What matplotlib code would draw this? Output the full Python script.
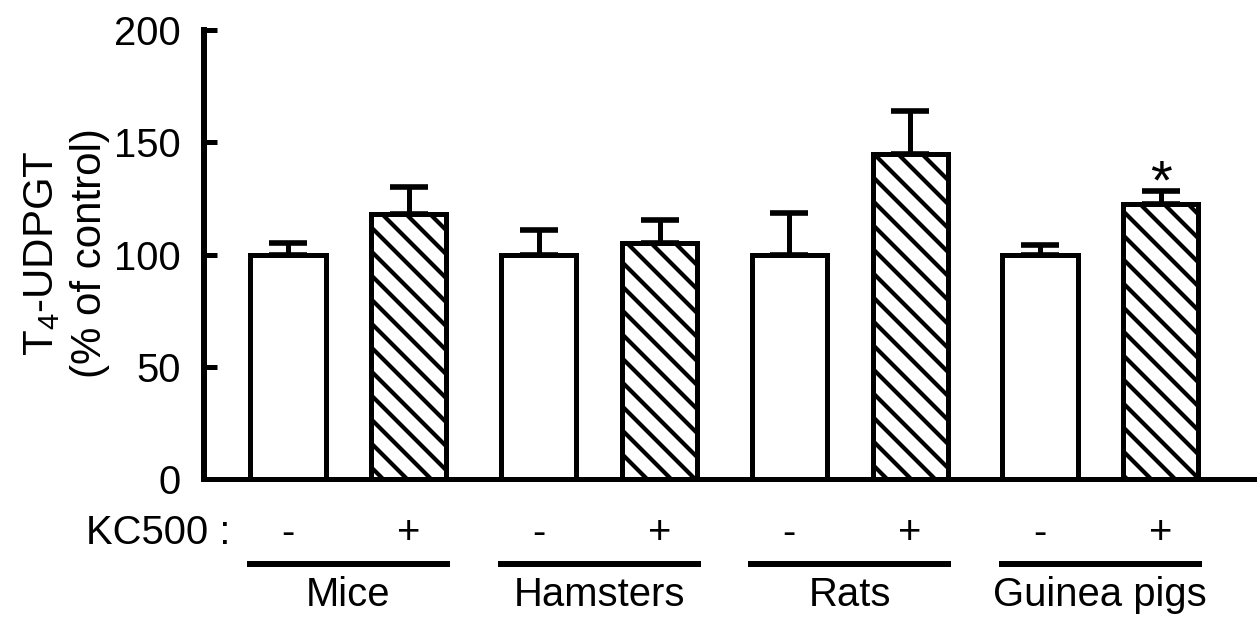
import matplotlib
matplotlib.use("Agg")
import matplotlib.pyplot as plt
import matplotlib.transforms as mtransforms
import numpy as np

# ---- data ----
species = ["Mice", "Hamsters", "Rats", "Guinea pigs"]
treatment_labels = ["-", "+"]
control_means = [100, 100, 100, 100]
control_err = [5.0, 10.8, 18.4, 4.1]
kc500_means = [118.1, 105.2, 144.9, 122.7]
kc500_err = [12.1, 10.0, 19.2, 5.6]
significant = [False, False, False, True]
yticks = [0, 50, 100, 150, 200]
ylabel_line1 = r"$\mathregular{T_4}$-UDPGT"
ylabel_line2 = "(% of control)"
row_label = "KC500 :"

plt.rcParams["font.family"] = ["Liberation Sans", "DejaVu Sans"]
plt.rcParams["mathtext.default"] = "regular"
plt.rcParams["hatch.linewidth"] = 2.1

DPI = 144
W, H = 1257, 621
fig = plt.figure(figsize=(W / DPI, H / DPI), dpi=DPI)
ax = fig.add_axes([204 / W, (H - 479) / H, (W - 204) / W, (479 - 30.2) / H])

FS = 20
group_pos = np.arange(len(species)) * 2.0
off = 0.482
bw = 0.6
x_ctrl = group_pos - off
x_kc = group_pos + off

# error bars (upper only)
for xs, m, e in [(x_ctrl, control_means, control_err), (x_kc, kc500_means, kc500_err)]:
    ax.errorbar(xs, m, yerr=[np.zeros(len(e)), e], fmt="none", ecolor="black",
                elinewidth=2.5, capsize=9.5, capthick=2.8, zorder=1)

ax.bar(x_ctrl, control_means, width=bw, color="white", edgecolor="black",
       linewidth=2.5, zorder=2)
bars_kc = ax.bar(x_kc, kc500_means, width=bw, color="white", edgecolor="black",
                 linewidth=2.5, zorder=2)
for p in bars_kc:
    p.set_hatch("\\\\")

# significance marks
for xk, m, e, s in zip(x_kc, kc500_means, kc500_err, significant):
    if s:
        ax.annotate("*", (xk, m + e), xytext=(0, -3.5), textcoords="offset points",
                    ha="center", va="baseline", fontsize=28)

ax.set_xlim(-1.153, 7.25)
ax.set_ylim(0, 200)
ax.set_yticks(yticks)
ax.set_yticklabels([str(t) for t in yticks], fontsize=FS)
ax.set_xticks([])
ax.spines["top"].set_visible(False)
ax.spines["right"].set_visible(False)
ax.spines["left"].set_linewidth(3)
ax.spines["bottom"].set_linewidth(2.5)
ax.tick_params(axis="y", direction="in", length=6.5, width=2.5, pad=11.5)

trans = mtransforms.blended_transform_factory(ax.transData, ax.transAxes)

# treatment row
for g in range(len(species)):
    ax.text(x_ctrl[g], -0.1448, treatment_labels[0], transform=trans, ha="center",
            va="baseline", fontsize=FS)
    ax.text(x_kc[g], -0.1448, treatment_labels[1], transform=trans, ha="center",
            va="baseline", fontsize=FS)
ax.text(0.0247, -0.1448, row_label, transform=ax.transAxes, ha="right",
        va="baseline", fontsize=FS)

# group lines and labels
ext = 0.81
for g, name in enumerate(species):
    ax.plot([group_pos[g] - ext, group_pos[g] + ext], [-0.1894, -0.1894],
            transform=trans, color="black", linewidth=3, solid_capstyle="butt",
            clip_on=False)
    ax.text(group_pos[g], -0.283, name, transform=trans, ha="center",
            va="baseline", fontsize=FS)

# y label (two lines)
yc = (H - 253) / H
fig.text(53 / W, yc, ylabel_line1, rotation=90, rotation_mode="anchor",
         ha="center", va="baseline", fontsize=21)
fig.text(101 / W, yc, ylabel_line2, rotation=90, rotation_mode="anchor",
         ha="center", va="baseline", fontsize=21)

fig.savefig("out.png", dpi=DPI)
